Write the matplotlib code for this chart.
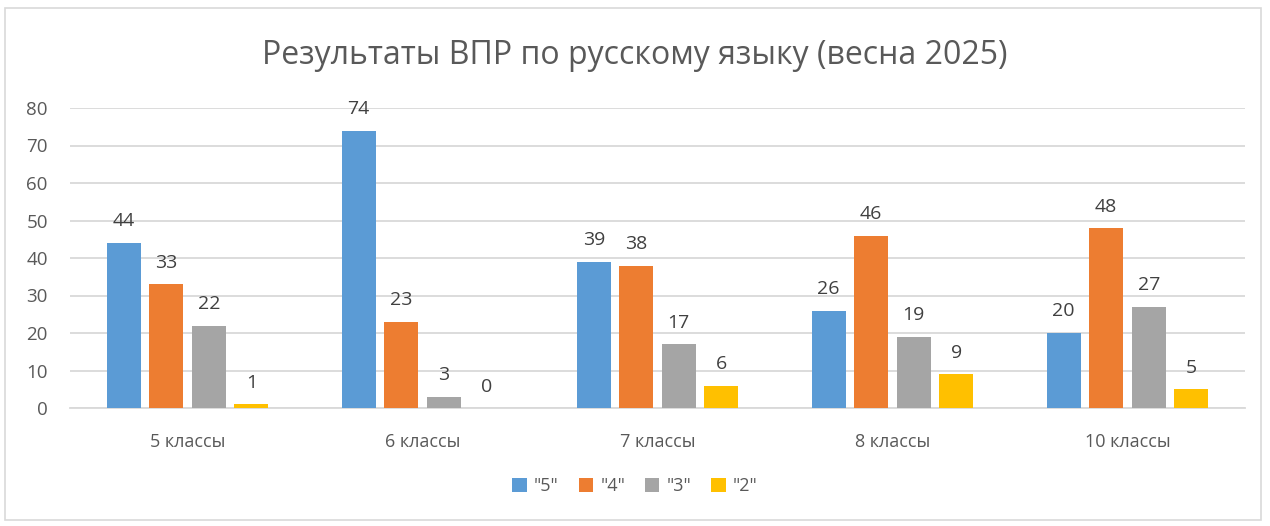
import numpy as np
import matplotlib.pyplot as plt
from matplotlib.patches import Rectangle

plt.rcParams['font.family'] = ['Open Sans', 'DejaVu Sans']

# данные диаграммы
categories = ["5 классы", "6 классы", "7 классы", "8 классы", "10 классы"]
series_names = ['"5"', '"4"', '"3"', '"2"']
marks_5 = [44, 74, 39, 26, 20]
marks_4 = [33, 23, 38, 46, 48]
marks_3 = [22, 3, 17, 19, 27]
marks_2 = [1, 0, 6, 9, 5]
yticks = [0, 10, 20, 30, 40, 50, 60, 70, 80]

colors = ['#5b9bd5', '#ed7d31', '#a5a5a5', '#ffc000']
series = [marks_5, marks_4, marks_3, marks_2]

fig = plt.figure(figsize=(12.7, 5.26), dpi=100)
fig.patches.append(Rectangle((5 / 1270, 6 / 526), 1256 / 1270, 512 / 526,
                             transform=fig.transFigure, fill=False,
                             edgecolor='#d9d9d9', linewidth=1.2))
ax = fig.add_axes([70 / 1270, 1 - 408 / 526, 1175 / 1270, 300 / 526])

x = np.arange(len(categories))
width = 0.145
pitch = 0.181
for i, (vals, name, col) in enumerate(zip(series, series_names, colors)):
    pos = x + (i - 1.5) * pitch
    ax.bar(pos, vals, width, color=col, label=name, zorder=3)
    for p, v in zip(pos, vals):
        ax.annotate(str(v), (p, v), xytext=(0, 9), textcoords='offset points',
                    ha='center', va='bottom', fontsize=14, color='#404040')

ax.set_xlim(-0.5, len(categories) - 0.5)
ax.set_ylim(0, 80)
ax.set_yticks(yticks)
ax.set_xticks(x)
ax.set_xticklabels(categories)
ax.grid(axis='y', color='#d9d9d9', linewidth=1.3, zorder=0)
for s in ['top', 'right', 'left']:
    ax.spines[s].set_visible(False)
ax.spines['bottom'].set_color('#d9d9d9')
ax.spines['bottom'].set_linewidth(1.3)
ax.tick_params(axis='both', length=0, labelsize=13, labelcolor='#595959')
ax.tick_params(axis='x', pad=18)
ax.tick_params(axis='y', labelsize=13.5, pad=16)

fig.text(0.5, 1 - 55 / 526, "Результаты ВПР по русскому языку (весна 2025)",
         ha='center', va='center', fontsize=23, color='#595959')

fig.legend(loc='center', bbox_to_anchor=(0.5, 1 - 486 / 526), ncol=4,
           frameon=False, fontsize=13, labelcolor='#595959',
           handlelength=0.8, handleheight=0.8, handletextpad=0.4,
           columnspacing=1.1)

fig.savefig('out.png', dpi=100)
